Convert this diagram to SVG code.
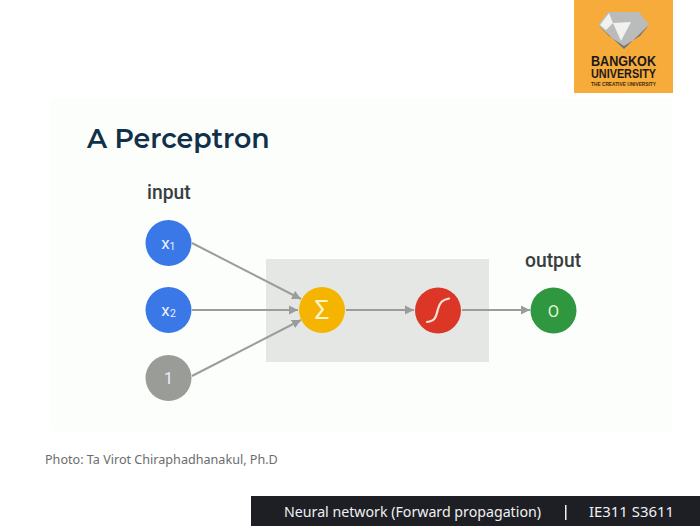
<svg xmlns="http://www.w3.org/2000/svg" width="700" height="526" viewBox="0 0 700 526">
<style>
.lbl{font-family:"Roboto","Liberation Sans",sans-serif;fill:#3a3d40;font-size:19.300px;font-weight:500}
.in{font-family:"Roboto","Liberation Sans",sans-serif;fill:#e8f0fe;text-anchor:middle}
.c{stroke:#9a9d9b;stroke-width:2;fill:none;marker-end:url(#a)}
.lg{font-family:"Liberation Sans",sans-serif;font-weight:700;text-anchor:middle;fill:#1a1a1a}
.ft{font-family:"Noto Sans","Open Sans",sans-serif;font-size:14.200px;fill:#f0f0f0}
</style>
<defs>
<marker id="a" markerUnits="userSpaceOnUse" markerWidth="11" markerHeight="10" refX="9" refY="5" orient="auto"><path d="M0 0.5L9 5L0 9.5Z" fill="#9a9d9b"/></marker>
</defs>
<rect width="700" height="526" fill="#fff"/>
<rect x="51" y="98" width="621" height="333" fill="#fbfefb"/>
<rect x="266" y="259" width="223" height="103" fill="#e4e7e4"/>
<text x="87" y="148" font-family="Montserrat,'Noto Sans','Open Sans',sans-serif" font-size="26.800" font-weight="600" fill="#12304a">A Perceptron</text>
<text x="147" y="199" class="lbl">input</text>
<text x="525" y="267" class="lbl">output</text>
<g id="connectors">
<line class="c" x1="192" y1="243" x2="301" y2="299"/>
<line class="c" x1="192" y1="310" x2="298" y2="310"/>
<line class="c" x1="192" y1="376" x2="301" y2="320"/>
<line class="c" x1="346" y1="310" x2="414" y2="310"/>
<line class="c" x1="462" y1="310" x2="530" y2="310"/>
</g>
<g id="x1"><circle cx="168.500" cy="243" r="23" fill="#3b78e7"/><text x="165.500" y="249" class="in" font-size="17">x</text><text x="172.500" y="250" class="in" font-size="10.500">1</text></g>
<g id="x2"><circle cx="168.500" cy="310" r="23" fill="#3b78e7"/><text x="165.500" y="316" class="in" font-size="17">x</text><text x="173" y="317" class="in" font-size="10.500">2</text></g>
<g id="bias"><circle cx="168.500" cy="378" r="23" fill="#9a9c98"/><text x="168.500" y="384" class="in" font-size="16">1</text></g>
<g id="sum"><circle cx="322" cy="310" r="23" fill="#f4b400"/><text x="322" y="319" class="in" font-size="26" style="fill:#fff3cf">Σ</text></g>
<g id="activation"><circle cx="438" cy="310.500" r="23" fill="#dc3626"/><path d="M427 322C436 321 436 316 438 309C440 302 442 300 449 298.500" fill="none" stroke="#f6e3d9" stroke-width="2.200" stroke-linecap="round"/></g>
<g id="out"><circle cx="553.500" cy="310.500" r="23" fill="#2f973f"/><text x="553.500" y="316.500" class="in" font-size="16.500" style="fill:#dff5d5">O</text></g>
<text x="45" y="464" font-family="'Noto Sans','Open Sans',sans-serif" font-size="12.600" fill="#6c6c6c">Photo: Ta Virot Chiraphadhanakul, Ph.D</text>
<g id="logo">
<rect x="574" y="0" width="99" height="93" fill="#f7ab3a"/>
<path d="M608 12H639L649 25L624 49L598 25Z" fill="#b9bcbb"/>
<path d="M598 25L624 49L649 25L640 36L624 46L609 36Z" fill="#77766c"/>
<path d="M609 13L613 23L606 30L600 25ZM613 23L631 22L621 41Z" fill="#f1f1ee"/>
<text x="623.500" y="66" class="lg" font-size="15.500" textLength="65" lengthAdjust="spacingAndGlyphs">BANGKOK</text>
<text x="623.500" y="78" class="lg" font-size="13.500" textLength="65" lengthAdjust="spacingAndGlyphs">UNIVERSITY</text>
<text x="623.500" y="86" class="lg" font-size="5" textLength="65" lengthAdjust="spacingAndGlyphs" style="fill:#3a2c14">THE CREATIVE UNIVERSITY</text>
</g>
<rect x="251" y="496" width="449" height="30" fill="#1d1f24"/>
<text x="284" y="517" class="ft" textLength="257" lengthAdjust="spacingAndGlyphs">Neural network (Forward propagation)</text>
<rect x="565" y="505" width="1.500" height="15" fill="#f0f0f0"/>
<text x="589" y="517" class="ft" textLength="85" lengthAdjust="spacingAndGlyphs">IE311 S3611</text>
</svg>
